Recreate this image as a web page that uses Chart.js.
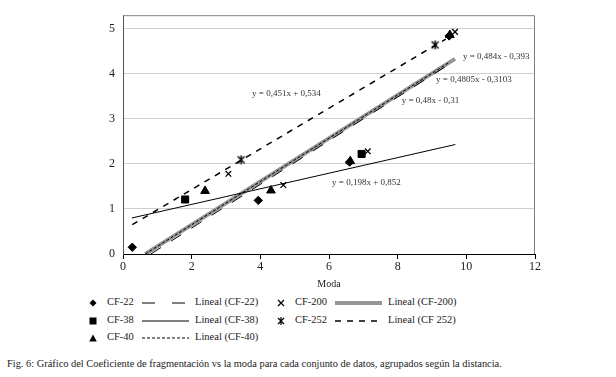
<!DOCTYPE html>
<html>
<head>
<meta charset="utf-8">
<script src="https://cdn.jsdelivr.net/npm/chart.js@4.4.1/dist/chart.umd.min.js"></script>
<style>
    html, body { margin: 0; padding: 0; background: #fff; }
    #wrap { position: relative; width: 616px; height: 377px; font-family: "Liberation Serif", "Times New Roman", serif; color: #222; }
    #chartBox { position: absolute; left: 0; top: 0; width: 616px; height: 295px; }
    .lg { position: absolute; font-size: 10.5px; line-height: 12px; white-space: nowrap; }
    .sw { position: absolute; }
    #caption { position: absolute; left: 7px; top: 358px; font-size: 10.4px; line-height: 12px; white-space: nowrap; }
</style>
</head>
<body>
<div id="wrap">
    <div id="chartBox"><canvas id="chart"></canvas></div>
    <div id="legend"></div>
    <div id="caption">Fig. 6: Gráfico del Coeficiente de fragmentación vs la moda para cada conjunto de datos, agrupados según la distancia.</div>
</div>
<script>
// measured points (Moda, CF)
const cf22X = [0.27, 3.94, 6.60, 9.50];
const cf22Y = [0.15, 1.19, 2.04, 4.84];
const cf38X = [1.81, 6.95];
const cf38Y = [1.21, 2.22];
const cf40X = [2.39, 4.31, 6.62, 9.52];
const cf40Y = [1.40, 1.41, 2.06, 4.86];
const cf200X = [3.07, 4.67, 7.13, 9.67];
const cf200Y = [1.78, 1.53, 2.28, 4.93];
const cf252X = [3.44, 9.09];
const cf252Y = [2.09, 4.64];

// trend line end points as drawn
const fit22X = [0.81, 9.50];
const fit22Y = [0.00, 4.21];
const fit38X = [0.26, 9.68];
const fit38Y = [0.80, 2.43];
const fit40X = [0.65, 9.52];
const fit40Y = [0.00, 4.26];
const fit200X = [0.65, 9.67];
const fit200Y = [0.00, 4.33];
const fit252X = [0.27, 9.40];
const fit252Y = [0.65, 4.77];

const xTicks = [0, 2, 4, 6, 8, 10, 12];
const yTicks = [0, 1, 2, 3, 4, 5];

// equation labels: text + anchor (left, middle) in data units
const eqText = ['y = 0,484x - 0,393', 'y = 0,4805x - 0,3103', 'y = 0,48x - 0,31', 'y = 0,451x + 0,534', 'y = 0,198x + 0,852'];
const eqAtX = [9.90, 9.12, 8.12, 3.76, 6.09];
const eqAtY = [4.39, 3.86, 3.40, 3.55, 1.59];

const SERIF = '"Liberation Serif", "Times New Roman", serif';
const pts = (xs, ys) => xs.map((x, i) => ({x: x, y: ys[i]}));

// excel style star marker (x with a vertical bar)
const starMark = document.createElement('canvas');
starMark.width = 11; starMark.height = 11;
(() => {
    const c = starMark.getContext('2d');
    c.strokeStyle = '#000';
    c.lineWidth = 1.4;
    c.beginPath();
    c.moveTo(2, 2); c.lineTo(9, 9);
    c.moveTo(9, 2); c.lineTo(2, 9);
    c.moveTo(5.5, 1); c.lineTo(5.5, 10);
    c.stroke();
})();

const marker = (label, xs, ys, style, radius) => ({
    label: label,
    data: pts(xs, ys),
    pointStyle: style,
    pointRadius: radius,
    pointBackgroundColor: '#000',
    pointBorderColor: '#000',
    pointBorderWidth: style === 'crossRot' ? 1.3 : 1,
    showLine: false,
    order: 0
});

const trend = (label, xs, ys, color, width, dash, order) => ({
    label: label,
    data: pts(xs, ys),
    showLine: true,
    borderColor: color,
    borderWidth: width,
    borderDash: dash,
    pointRadius: 0,
    fill: false,
    order: order
});

const boxPlugin = {
    id: 'plotBox',
    beforeDatasetsDraw(chart) {
        const a = chart.chartArea;
        const ctx = chart.ctx;
        ctx.save();
        ctx.strokeStyle = '#808080';
        ctx.lineWidth = 1;
        ctx.beginPath();
        ctx.moveTo(a.left, a.top + 0.5);
        ctx.lineTo(a.right - 0.5, a.top + 0.5);
        ctx.lineTo(a.right - 0.5, a.bottom);
        ctx.stroke();
        ctx.restore();
    }
};

const eqPlugin = {
    id: 'eqLabels',
    afterDatasetsDraw(chart) {
        const ctx = chart.ctx;
        const sx = chart.scales.x, sy = chart.scales.y;
        ctx.save();
        ctx.font = '9px ' + SERIF;
        ctx.fillStyle = '#333';
        ctx.textAlign = 'left';
        ctx.textBaseline = 'middle';
        eqText.forEach((t, i) => {
            ctx.fillText(t, sx.getPixelForValue(eqAtX[i]), sy.getPixelForValue(eqAtY[i]));
        });
        ctx.restore();
    }
};

new Chart(document.getElementById('chart'), {
    type: 'scatter',
    data: {
        datasets: [
            marker('CF-22', cf22X, cf22Y, 'rectRot', 4.2),
            marker('CF-38', cf38X, cf38Y, 'rect', 5),
            marker('CF-40', cf40X, cf40Y, 'triangle', 5),
            marker('CF-200', cf200X, cf200Y, 'crossRot', 4),
            marker('CF-252', cf252X, cf252Y, starMark, 5),
            trend('Lineal (CF-22)', fit22X, fit22Y, '#000', 1, [12, 12], 2),
            trend('Lineal (CF-38)', fit38X, fit38Y, '#000', 1, [], 2),
            trend('Lineal (CF-40)', fit40X, fit40Y, '#000', 1, [3, 2], 2),
            trend('Lineal (CF-200)', fit200X, fit200Y, '#959595', 4, [], 3),
            trend('Lineal (CF 252)', fit252X, fit252Y, '#000', 1.5, [6, 6], 2)
        ]
    },
    options: {
        responsive: true,
        maintainAspectRatio: false,
        animation: false,
        layout: {padding: {top: 14, right: 81, left: 0, bottom: 0}},
        plugins: {
            legend: {display: false},
            tooltip: {enabled: false}
        },
        scales: {
            x: {
                type: 'linear',
                min: 0,
                max: 12,
                afterBuildTicks: s => { s.ticks = xTicks.map(v => ({value: v})); },
                afterFit: s => { s.height = 41; },
                ticks: {font: {family: SERIF, size: 12}, color: '#222', padding: 1},
                grid: {drawOnChartArea: false, drawTicks: true, tickLength: 5, color: '#000'},
                border: {color: '#000', width: 1},
                title: {display: true, text: 'Moda', font: {family: SERIF, size: 10}, color: '#222', padding: {top: 4, bottom: 5}}
            },
            y: {
                type: 'linear',
                min: 0,
                max: 5.3,
                afterBuildTicks: s => { s.ticks = yTicks.map(v => ({value: v})); },
                afterFit: s => { s.width = 123; },
                ticks: {font: {family: SERIF, size: 12}, color: '#222', padding: 8},
                grid: {color: '#cfcfcf', drawTicks: false},
                border: {color: '#555', width: 1}
            }
        }
    },
    plugins: [boxPlugin, eqPlugin]
});

// legend, laid out like the excel one (markers, then trend lines)
const legendItems = [
    {kind: 'diamond', text: 'CF-22', x: 93, y: 303},
    {kind: 'line', dash: '13 17', w: 1, col: '#000', text: 'Lineal (CF-22)', x: 142, y: 303},
    {kind: 'cross', text: 'CF-200', x: 281, y: 303},
    {kind: 'line', dash: '', w: 4, col: '#959595', text: 'Lineal (CF-200)', x: 335, y: 303},
    {kind: 'square', text: 'CF-38', x: 93, y: 321},
    {kind: 'line', dash: '', w: 1, col: '#000', text: 'Lineal (CF-38)', x: 142, y: 321},
    {kind: 'star', text: 'CF-252', x: 281, y: 321},
    {kind: 'line', dash: '6 6', w: 1.5, col: '#000', text: 'Lineal (CF 252)', x: 335, y: 321},
    {kind: 'triangle', text: 'CF-40', x: 93, y: 338},
    {kind: 'line', dash: '3 2', w: 1, col: '#000', text: 'Lineal (CF-40)', x: 142, y: 338}
];

const legendEl = document.getElementById('legend');
const glyph = {
    diamond: '<polygon points="4,0.5 7.5,4 4,7.5 0.5,4" fill="#000"/>',
    square: '<rect x="0.5" y="0.5" width="7" height="7" fill="#000"/>',
    triangle: '<polygon points="4,0.5 7.8,7.5 0.2,7.5" fill="#000"/>',
    cross: '<path d="M1,1 L7,7 M7,1 L1,7" stroke="#000" stroke-width="1.2"/>',
    star: '<path d="M1,1 L7,7 M7,1 L1,7 M4,0 L4,8" stroke="#000" stroke-width="1.2"/>'
};
legendItems.forEach(it => {
    let html = '';
    if (it.kind === 'line') {
        html += `<svg class="sw" style="left:${it.x}px;top:${it.y - 3}px" width="47" height="6"><line x1="0" y1="3" x2="47" y2="3" stroke="${it.col}" stroke-width="${it.w}" stroke-dasharray="${it.dash}"/></svg>`;
        html += `<span class="lg" style="left:${it.x + 53}px;top:${it.y - 7}px">${it.text}</span>`;
    } else {
        html += `<svg class="sw" style="left:${it.x - 4}px;top:${it.y - 4}px" width="8" height="8">${glyph[it.kind]}</svg>`;
        html += `<span class="lg" style="left:${it.x + 14}px;top:${it.y - 7}px">${it.text}</span>`;
    }
    legendEl.insertAdjacentHTML('beforeend', html);
});
</script>
</body>
</html>
